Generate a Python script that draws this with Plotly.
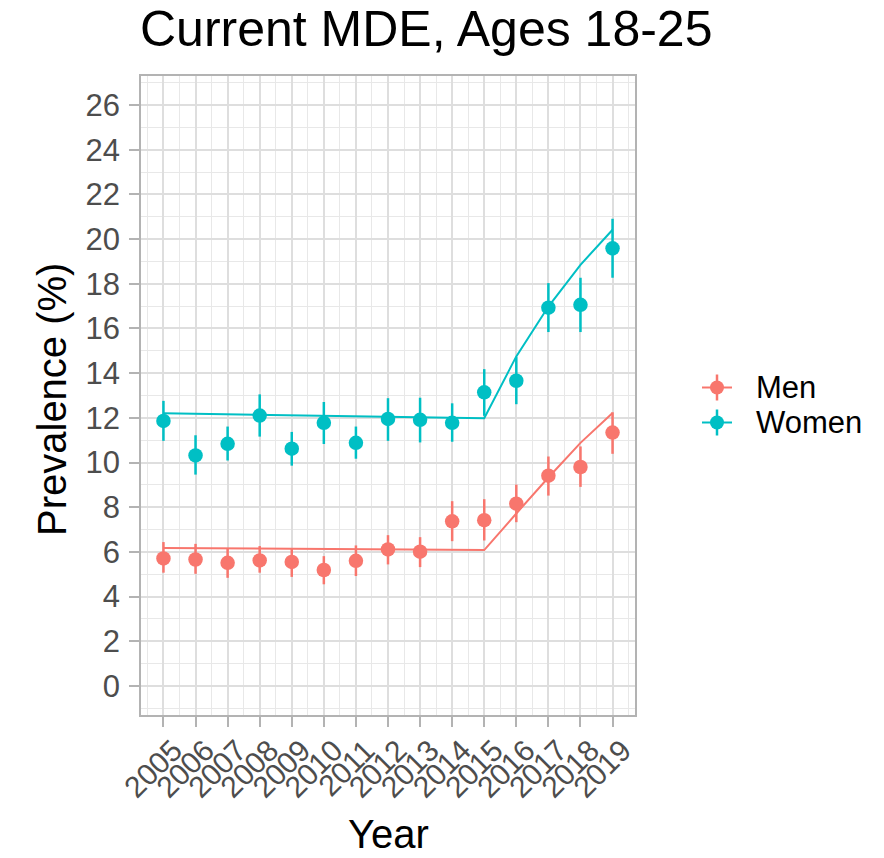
import plotly.graph_objects as go

# ---------------- data ----------------
years = [2005, 2006, 2007, 2008, 2009, 2010, 2011, 2012, 2013, 2014, 2015, 2016, 2017, 2018, 2019]

men = [5.71, 5.66, 5.51, 5.62, 5.55, 5.19, 5.60, 6.11, 6.01, 7.37, 7.42, 8.16, 9.41, 9.80, 11.34]
men_hi = [6.44, 6.36, 6.14, 6.26, 6.15, 5.81, 6.29, 6.75, 6.66, 8.27, 8.36, 9.01, 10.27, 10.72, 12.25]
men_lo = [5.07, 5.02, 4.84, 5.07, 4.88, 4.55, 4.92, 5.44, 5.32, 6.48, 6.51, 7.33, 8.52, 8.91, 10.39]
men_fit = [6.18, 6.17, 6.16, 6.15, 6.14, 6.13, 6.12, 6.11, 6.10, 6.09, 6.08, 7.72, 9.33, 10.88, 12.22]

women = [11.86, 10.32, 10.84, 12.10, 10.62, 11.78, 10.88, 11.95, 11.91, 11.78, 13.14, 13.66, 16.93, 17.06, 19.59]
women_hi = [12.76, 11.22, 11.61, 13.05, 11.37, 12.71, 11.61, 12.88, 12.90, 12.65, 14.18, 14.73, 18.03, 18.27, 20.91]
women_lo = [10.97, 9.46, 10.09, 11.16, 9.86, 10.83, 10.17, 10.97, 10.90, 10.93, 12.09, 12.61, 15.84, 15.84, 18.27]
women_fit = [12.20, 12.18, 12.16, 12.14, 12.12, 12.10, 12.08, 12.06, 12.04, 12.01, 11.98, 14.75, 16.98, 18.85, 20.42]

groups = ["Men", "Women"]
y_ticks = list(range(0, 27, 2))

# ---------------- style ----------------
COL = {"Men": "#F8766D", "Women": "#00BFC4"}
FONT = "Liberation Sans, Arial, Helvetica, sans-serif"
W, H = 884, 858
L, R, T, B = 141, 635, 76, 715  # panel pixel box

def px_x(px):
    return (px - L) / (R - L)

def px_y(py):
    return (B - py) / (B - T)

fig = go.Figure()

series = {
    "Men": (men, men_hi, men_lo, men_fit),
    "Women": (women, women_hi, women_lo, women_fit),
}

for g in groups:
    val, hi, lo, fit = series[g]
    fig.add_trace(go.Scatter(
        x=years, y=fit, mode="lines",
        line=dict(color=COL[g], width=2),
        showlegend=False, hoverinfo="skip",
    ))
    fig.add_trace(go.Scatter(
        x=years, y=val, mode="markers", name=g,
        marker=dict(color=COL[g], size=14.5, line=dict(width=0)),
        error_y=dict(type="data", symmetric=False,
                     array=[h - v for h, v in zip(hi, val)],
                     arrayminus=[v - l for v, l in zip(val, lo)],
                     color=COL[g], thickness=2.5, width=0),
        showlegend=False,
    ))

# ---------------- manual legend ----------------
shapes = []
annotations = []
legend_rows = [("Men", 387.5), ("Women", 422.5)]
cx = 717
for g, cy in legend_rows:
    shapes.append(dict(type="line", xref="paper", yref="paper",
                       x0=px_x(cx - 15), x1=px_x(cx + 15), y0=px_y(cy), y1=px_y(cy),
                       line=dict(color=COL[g], width=2)))
    shapes.append(dict(type="line", xref="paper", yref="paper",
                       x0=px_x(cx), x1=px_x(cx), y0=px_y(cy - 13), y1=px_y(cy + 13),
                       line=dict(color=COL[g], width=2.5)))
    shapes.append(dict(type="circle", xref="paper", yref="paper",
                       x0=px_x(cx - 7), x1=px_x(cx + 7), y0=px_y(cy - 7), y1=px_y(cy + 7),
                       fillcolor=COL[g], line=dict(width=0)))
    annotations.append(dict(text=g, xref="paper", yref="paper",
                            x=px_x(754), y=px_y(cy), xanchor="left", yanchor="middle",
                            showarrow=False, font=dict(family=FONT, size=31, color="black")))

# titles
annotations.append(dict(text="Current MDE, Ages 18-25", xref="paper", yref="paper",
                        x=px_x(138), y=px_y(29), xanchor="left", yanchor="middle",
                        showarrow=False, font=dict(family=FONT, size=50, color="black")))
annotations.append(dict(text="Year", xref="paper", yref="paper",
                        x=0.5, y=px_y(858), xanchor="center", yanchor="bottom",
                        showarrow=False, font=dict(family=FONT, size=40, color="black")))
annotations.append(dict(text="Prevalence (%)", xref="paper", yref="paper",
                        x=px_x(52), y=px_y(400), xanchor="center", yanchor="middle",
                        textangle=-90,
                        showarrow=False, font=dict(family=FONT, size=40, color="black")))

axis_common = dict(
    showline=True, mirror=True, linecolor="#B3B3B3", linewidth=1.5,
    showgrid=True, gridcolor="#DEDEDE", gridwidth=1.6,
    ticks="outside", ticklen=10, tickwidth=1.5, tickcolor="#B3B3B3",
    zeroline=False,
)

fig.update_layout(
    width=W, height=H,
    margin=dict(l=L, r=W - R, t=T, b=H - B),
    paper_bgcolor="white", plot_bgcolor="white",
    showlegend=False,
    shapes=shapes, annotations=annotations,
    xaxis=dict(range=[2004.3, 2019.7], tickmode="array", tickvals=years,
               ticktext=[str(y) for y in years], tickangle=-45,
               ticklabelshift=10, ticklabelstandoff=-6,
               tickfont=dict(family=FONT, size=30, color="#4D4D4D"),
               minor=dict(dtick=0.5, tick0=2004.5, showgrid=True,
                          gridcolor="#E8E8E8", gridwidth=1.2, ticks=""),
               **axis_common),
    yaxis=dict(range=[-1.3, 27.3], tickmode="array", tickvals=y_ticks,
               ticktext=[str(v) for v in y_ticks], ticklabelstandoff=3,
               tickfont=dict(family=FONT, size=31, color="#4D4D4D"),
               minor=dict(dtick=1, tick0=1, showgrid=True,
                          gridcolor="#E8E8E8", gridwidth=1.2, ticks=""),
               **axis_common),
)

fig.write_html("out.html")
